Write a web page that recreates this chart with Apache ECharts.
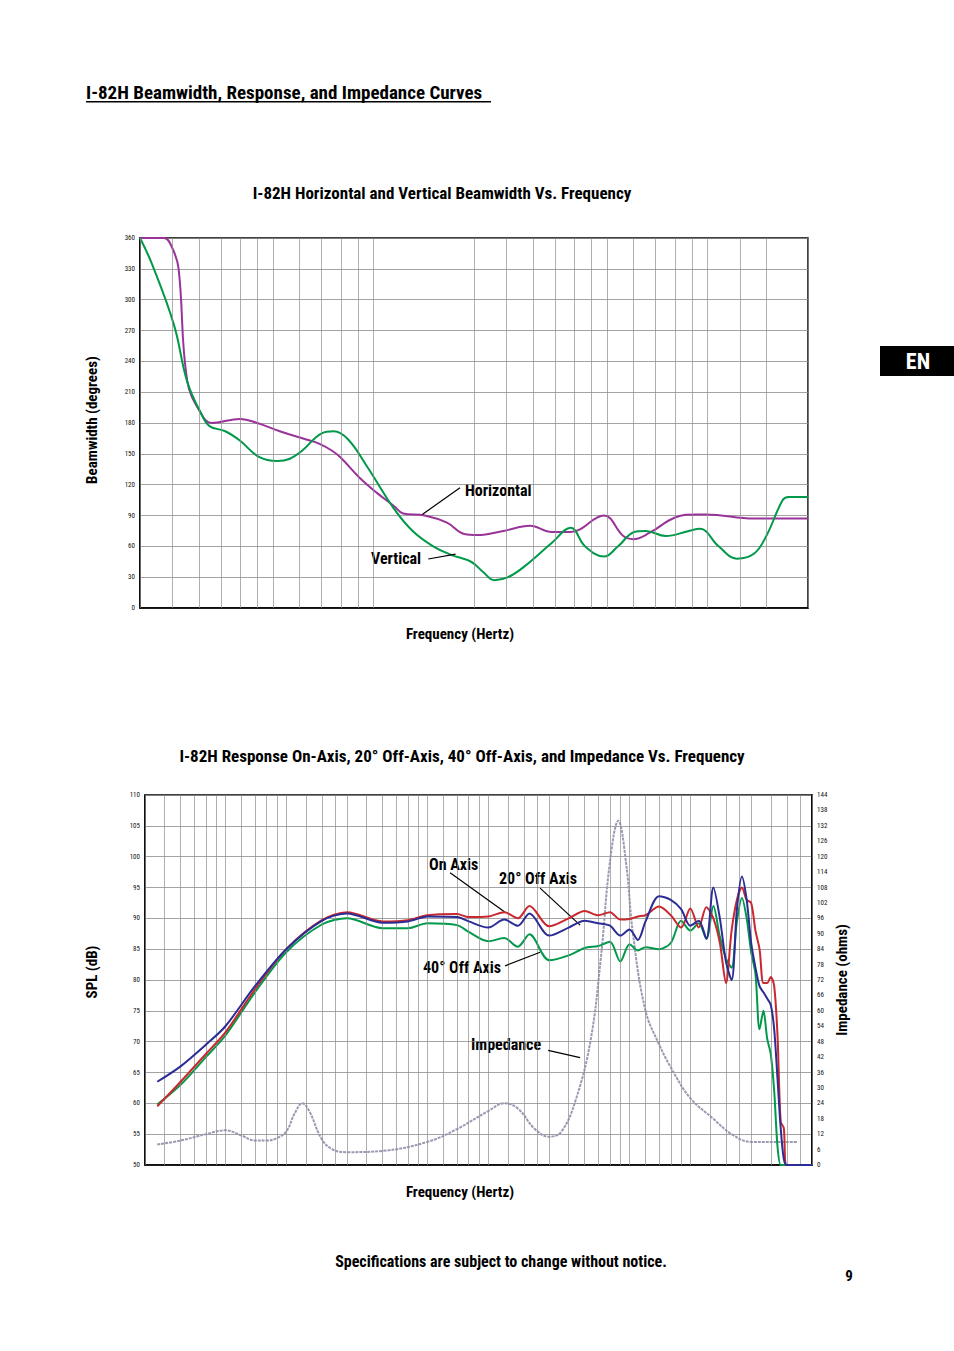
<!DOCTYPE html>
<html><head><meta charset="utf-8">
<script src="https://cdn.jsdelivr.net/npm/echarts@6/dist/echarts.min.js"></script>
<style>body{margin:0;background:#fff}#c{width:954px;height:1351px}</style>
</head><body><div id="c"></div>
<script>
// beamwidth, [Hz, degrees]
const horizontal = [[200,360],[236,360],[250,350],[261,330],[277,221],[305,189],[327,180],[399,184],[449,180],[524,172],[629,164],[687,160],[752,153],[800,146],[907,127],[1024,112],[1154,99],[1226,92],[1425,90],[1660,83],[1870,72],[2050,71],[2450,75],[2940,80],[3420,74],[3900,74],[4900,90],[5600,70],[6000,67],[6700,73],[8000,88],[9300,91],[9900,91],[13800,87],[20000,87]];
const vertical = [[200,360],[217,335],[253,275],[277,220],[305,189],[323,177],[360,172],[398,163],[454,147],[516,143],[560,145],[611,153],[700,170],[761,172],[840,164],[960,137],[1150,97],[1310,75],[1510,60],[1700,52],[1960,45],[2130,35],[2300,27],[2530,30],[2820,40],[3410,63],[3900,78],[4300,60],[4900,50],[5400,60],[6040,74],[6530,75],[7500,70],[8800,75],[9500,77],[10800,60],[12250,48],[13800,53],[15000,70],[16800,105],[17500,108],[20000,108]];

// response, dB
const freqs = [23,30,40,50,70,100,150,200,300,400,500,700,800,1000,1200,1400,1600,2000,2500,3000,3500,4000,4500,5000,5500,6000,7000,8000,9000,10000,11000,12000,13000,14000,15000,16000,17000,18000,19000,20000,21000,22000,23000,24000,25000,26000,27000,28000,29000,30000,40000];
const onAxis  = [59.5,63.5,68,71.5,78.5,85,89.7,91,89.5,89.7,90.5,90.7,90.2,90.3,91,90,92,88.7,90,91.2,90.5,91,89.8,89.9,90.3,90.5,91.9,90.5,88.5,91.6,88.5,91.8,90,86,79.5,88,93,95,93,92.5,88,85,79.5,79.5,80.5,79,71,57,56,50,50];
const offAxis20 = [63.5,66,69.5,72.5,79,85,89.6,90.8,89.3,89.5,90.3,90.2,89.5,88.5,89.8,88.8,90.8,87.2,88.5,89.6,89.2,88.8,87.2,88.2,86.5,89.5,93.6,93,91.5,88.8,89.6,86.7,95,90,83,80,91.5,96.8,93,86,82,79,78,77,76,72,64,56,51,50,50];
const offAxis40 = [59.8,63,67.5,71,78,84.5,89,90,88.4,88.4,89.2,88.9,87.8,86.3,86.8,85.4,87.4,83.2,84,85.2,85.5,86.2,83,85.8,84.8,85.3,85,86,89.6,88,89.2,86.7,92,87,83.5,82,89.5,93.3,90,84.5,81,72,75,70.5,68,62,53,50,50,50,50];
// impedance, [Hz, ohms]
const impedance = [[23,8],[30,9.5],[40,12],[50,13.5],[60,11.5],[70,9.5],[80,9.5],[90,10.5],[100,13],[110,20],[120,24],[130,21],[150,10],[170,6],[200,5],[300,5.5],[500,9],[700,14],[1000,21],[1200,24],[1400,22],[1700,14],[2000,11],[2300,13],[2700,25],[3200,48],[3600,80],[4000,118],[4400,134],[4800,118],[5200,90],[6000,60],[7000,47],[8000,38],[10000,26],[13000,18],[16000,12],[20000,9],[30000,9],[34000,9]];

const topGrid = [200,250,300,350,400,450,500,600,700,800,900,1000,2000,2500,3000,3500,4000,4500,5000,6000,7000,8000,9000,10000,12500,15000,20000];
const topTicks = [[200,'200  Hz'],[500,'500'],[1000,'1K'],[2000,'2K'],[5000,'5K'],[10000,'10K'],[20000,'20K']];
const botGrid = [20,25,30,35,40,45,50,60,70,80,90,100,125,150,175,200,250,300,350,400,450,500,600,700,800,900,1000,1250,1500,1750,2000,2500,3000,3500,4000,4500,5000,6000,7000,8000,9000,10000,12500,15000,17500,20000,25000,30000,35000,40000];
const botTicks = [[20,'20  Hz'],[50,'50'],[100,'100'],[200,'200'],[500,'500'],[1000,'1K'],[2000,'2K'],[5000,'5K'],[10000,'10K'],[20000,'20K'],[40000,'40K']];

const F = "'Liberation Sans Narrow','Roboto Condensed','DejaVu Sans Condensed',sans-serif";
const chart = echarts.init(document.getElementById('c'), null, {renderer:'svg'});

const gridLines = (vals) => ({
  silent:true, symbol:'none', animation:false,
  lineStyle:{color:'#8c8c8c', width:0.7, type:'solid'},
  label:{show:false},
  data: vals.map(v => ({xAxis:v}))
});
const tickLabels = (ticks, size) => ({
  silent:true, symbol:'none', animation:false,
  lineStyle:{opacity:0},
  label:{show:true, position:'start', distance:3, fontSize:size, fontFamily:F, color:'#111', formatter:p => p.name},
  data: ticks.map(t => ({xAxis:t[0], name:t[1]}))
});
const leader = (segs) => ({
  silent:true, symbol:'none', animation:false,
  lineStyle:{color:'#000', width:1.2, type:'solid'}, label:{show:false},
  data: segs.map(s => [{coord:s[0]},{coord:s[1]}])
});
const yAx = (gi, min, max, iv, pos, fs) => ({
  type:'value', gridIndex:gi, min, max, interval:iv, position:pos,
  axisLine:{show:true, lineStyle:{color:'#000', width:1.5}}, axisTick:{show:false},
  axisLabel:{fontSize:fs, fontFamily:F, color:'#111', margin:5},
  splitLine:{show:pos==='left', lineStyle:{color:'#8c8c8c', width:0.8}}
});
const xAx = (gi, min, max) => ({
  type:'log', gridIndex:gi, min, max, logBase:10,
  axisLine:{show:true, lineStyle:{color:'#000', width:1.5}}, axisTick:{show:false},
  axisLabel:{show:false}, splitLine:{show:false}
});
const T = (x, y, text, size, extra) => Object.assign({type:'text', x, y, style:{text, font:'bold '+size+'px '+F, fill:'#000', verticalAlign:'middle'}}, extra || {});
const TC = (x, y, text, size, rot) => ({type:'text', x, y, rotation:rot || 0, style:{text, font:'bold '+size+'px '+F, fill:'#000', align:'center', verticalAlign:'middle'}});

chart.setOption({
  animation:false,
  textStyle:{fontFamily:F},
  grid:[
    {left:140, right:146, top:238, height:370, show:true, borderColor:'#000', borderWidth:1.5},
    {left:145, right:142, top:795, height:370, show:true, borderColor:'#000', borderWidth:1.5}
  ],
  xAxis:[xAx(0,200,20000), xAx(1,20,40000)],
  yAxis:[yAx(0,0,360,30,'left',7), yAx(1,50,110,5,'left',7), Object.assign(yAx(1,0,144,6,'right',7),{splitLine:{show:false}})],
  series:[
    {type:'line', xAxisIndex:0, yAxisIndex:0, data:horizontal, smooth:0.4, symbol:'none', z:3,
      lineStyle:{color:'#993399', width:2},
      markLine:gridLines(topGrid)},
    {type:'line', xAxisIndex:0, yAxisIndex:0, data:vertical, smooth:0.4, symbol:'none', z:4,
      lineStyle:{color:'#00994a', width:2},
      markLine:leader([[[1400,91],[1816,117]],[[1459,47.7],[1762,52.5]]])},
    {type:'line', xAxisIndex:0, yAxisIndex:0, data:horizontal, symbol:'none', z:1,
      lineStyle:{opacity:0}, markLine:tickLabels(topTicks,7)},
    {type:'line', xAxisIndex:1, yAxisIndex:2, data:impedance, smooth:0.4, symbol:'none', z:3,
      lineStyle:{color:'#9a9ab4', width:2, type:[3,1]},
      markLine:gridLines(botGrid)},
    {type:'line', xAxisIndex:1, yAxisIndex:1, data:freqs.map((f,i)=>[f,offAxis40[i]]), smooth:0.3, symbol:'none', z:4,
      lineStyle:{color:'#00994a', width:2}, markLine:tickLabels(botTicks,7)},
    {type:'line', xAxisIndex:1, yAxisIndex:1, data:freqs.map((f,i)=>[f,onAxis[i]]), smooth:0.3, symbol:'none', z:5,
      lineStyle:{color:'#c8282e', width:2}},
    {type:'line', xAxisIndex:1, yAxisIndex:1, data:freqs.map((f,i)=>[f,offAxis20[i]]), smooth:0.3, symbol:'none', z:6,
      lineStyle:{color:'#2b2d94', width:2},
      markLine:leader([[[647,97.4],[1211,91]],[[1805,94.9],[2846,88.9]],[[1211,82.3],[1805,84.5]],[[1979,68.6],[2846,67.4]]])}
  ],
  graphic:[
    T(86, 92, 'I-82H Beamwidth, Response, and Impedance Curves', 19),
    {type:'rect', shape:{x:86, y:101, width:405, height:1.5}, style:{fill:'#000'}},
    {type:'rect', shape:{x:880, y:346, width:74, height:30}, style:{fill:'#000'}},
    {type:'text', x:918, y:361, style:{text:'EN', font:'bold 22px '+F, fill:'#fff', align:'center', verticalAlign:'middle'}},
    TC(442, 193, 'I-82H Horizontal and Vertical Beamwidth Vs. Frequency', 17),
    TC(92, 420, 'Beamwidth (degrees)', 15, Math.PI/2),
    TC(460, 634, 'Frequency (Hertz)', 15),
    T(465, 490, 'Horizontal', 16),
    T(371, 558, 'Vertical', 16),
    TC(462, 756, 'I-82H Response On-Axis, 20° Off-Axis, 40° Off-Axis, and Impedance Vs. Frequency', 17),
    TC(92, 972, 'SPL (dB)', 15, Math.PI/2),
    TC(842, 980, 'Impedance (ohms)', 15, Math.PI/2),
    TC(460, 1192, 'Frequency (Hertz)', 15),
    T(429, 864, 'On Axis', 16),
    T(499, 878, '20° Off Axis', 16),
    T(423, 967, '40° Off Axis', 16),
    T(471, 1044, 'Impedance', 16),
    TC(501, 1261, 'Specifications are subject to change without notice.', 16),
    TC(849, 1276, '9', 15)
  ]
});
</script></body></html>
